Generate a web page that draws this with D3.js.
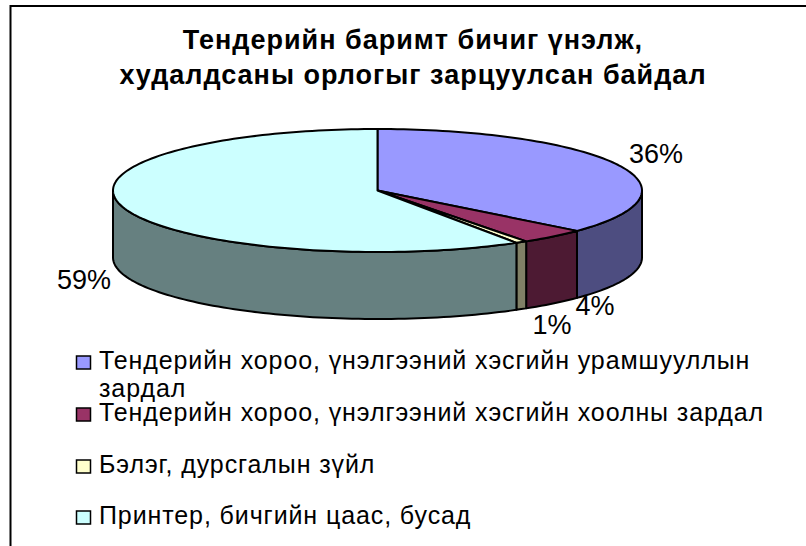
<!DOCTYPE html>
<html lang="mn">
  <head>
    <meta charset="UTF-8" />
    <script src="https://d3js.org/d3.v7.min.js"></script>
    <title>Тендерийн баримт бичиг</title>
    <style>
      html, body { margin: 0; padding: 0; background: #fff; }
      svg { display: block; }
      text { font-family: "Liberation Sans", Arial, sans-serif; fill: #000; }
    </style>
  </head>
  <body>
    <svg id="chart" width="806" height="546"></svg>

    <script>
      const titleLines = ["Тендерийн баримт бичиг үнэлж,", "худалдсаны орлогыг зарцуулсан байдал"];
      const categories = [
        ["Тендерийн хороо, үнэлгээний хэсгийн урамшууллын", "зардал"],
        ["Тендерийн хороо, үнэлгээний хэсгийн хоолны зардал"],
        ["Бэлэг, дурсгалын зүйл"],
        ["Принтер, бичгийн цаас, бусад"],
      ];
      // the labels round these
      const values = [36.4, 4.1, 0.7, 58.8];
      const topColors = ["#9999ff", "#993366", "#ffffcc", "#ccffff"];
      const sideColors = ["#4d4d80", "#4d1a33", "#808066", "#668080"];

      const svg = d3.select("#chart");

      // chart frame, only left and top show in the picture
      svg.append("path")
        .attr("d", "M10.5,546V6H806")
        .attr("fill", "none")
        .attr("stroke", "#000")
        .attr("stroke-width", 2);

      svg.append("g")
        .selectAll("text")
        .data(titleLines)
        .enter()
        .append("text")
        .attr("x", 413)
        .attr("y", (d, i) => 49 + i * 35)
        .attr("text-anchor", "middle")
        .attr("font-weight", "bold")
        .attr("font-size", 27)
        .attr("letter-spacing", 1)
        .text((d) => d);

      // unit circle -> tilted ellipse
      const x = d3.scaleLinear().domain([-1, 1]).range([113, 642]);
      const y = d3.scaleLinear().domain([-1, 1]).range([129, 252]);
      const depth = 67;

      const arcs = d3.pie().sort(null)(values);
      const px = (a) => x(Math.sin(a));
      const py = (a) => y(-Math.cos(a));
      const line = d3.line();

      function arcPoints(a0, a1) {
        const n = Math.max(2, Math.ceil((a1 - a0) * 40));
        return d3.range(n + 1).map((i) => {
          const a = a0 + ((a1 - a0) * i) / n;
          return [px(a), py(a)];
        });
      }

      const pie = svg.append("g")
        .attr("stroke", "#000")
        .attr("stroke-width", 2)
        .attr("stroke-linejoin", "round");

      // walls: only the part of each slice facing the viewer
      arcs.forEach((d, i) => {
        const a0 = Math.max(d.startAngle, Math.PI / 2);
        const a1 = Math.min(d.endAngle, (3 * Math.PI) / 2);
        if (a1 <= a0) return;
        const top = arcPoints(a0, a1);
        const bottom = top.map((p) => [p[0], p[1] + depth]).reverse();
        pie.append("path")
          .attr("d", line(top.concat(bottom)) + "Z")
          .attr("fill", sideColors[i]);
      });

      // top faces
      pie.selectAll("path.top")
        .data(arcs)
        .enter()
        .append("path")
        .attr("class", "top")
        .attr("fill", (d, i) => topColors[i])
        .attr("d", (d) =>
          line([[x(0), y(0)]].concat(arcPoints(d.startAngle, d.endAngle))) + "Z"
        );

      const dataLabelPos = [[656, 163], [595, 315], [552, 334], [84, 289]];
      svg.append("g")
        .selectAll("text")
        .data(arcs)
        .enter()
        .append("text")
        .attr("x", (d, i) => dataLabelPos[i][0])
        .attr("y", (d, i) => dataLabelPos[i][1])
        .attr("text-anchor", "middle")
        .attr("font-size", 27)
        .text((d) => Math.round(d.value) + "%");

      // legend
      const legendY = [369, 421, 473, 524];
      const legend = svg.append("g")
        .selectAll("g")
        .data(categories)
        .enter()
        .append("g")
        .attr("transform", (d, i) => `translate(76,${legendY[i]})`);

      legend.append("rect")
        .attr("x", 0.5)
        .attr("y", -13)
        .attr("width", 14)
        .attr("height", 13)
        .attr("fill", (d, i) => topColors[i])
        .attr("stroke", "#000")
        .attr("stroke-width", 1.5);

      legend.selectAll("text")
        .data((d) => d)
        .enter()
        .append("text")
        .attr("x", 23)
        .attr("y", (d, i) => i * 28)
        .attr("font-size", 25)
        .attr("letter-spacing", 0.9)
        .text((d) => d);
    </script>
  </body>
</html>
